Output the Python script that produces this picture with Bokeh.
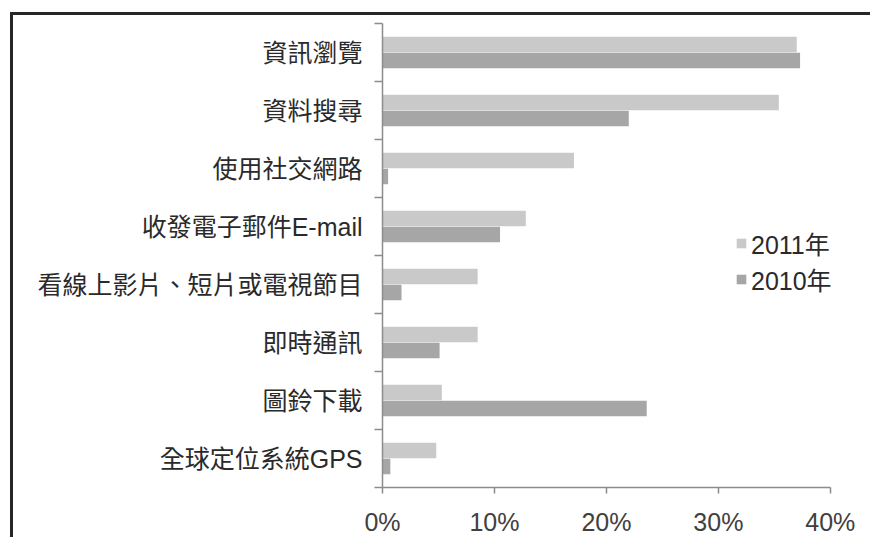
from bokeh.plotting import figure
from bokeh.models import Range1d, FixedTicker, Legend, LegendItem, ColumnDataSource
from bokeh.embed import file_html
from bokeh.resources import INLINE
import numpy as np

categories = ["資訊瀏覽", "資料搜尋", "使用社交網路", "收發電子郵件E-mail",
              "看線上影片、短片或電視節目", "即時通訊", "圖鈴下載", "全球定位系統GPS"]
v2011 = [37.0, 35.4, 17.1, 12.8, 8.5, 8.5, 5.3, 4.8]
v2010 = [37.3, 22.0, 0.5, 10.5, 1.7, 5.1, 23.6, 0.7]
x_ticks = [0, 10, 20, 30, 40]
series_names = ["2011年", "2010年"]

FONT = "'Liberation Sans', 'Noto Sans CJK TC', sans-serif"
LIGHT = "#c9c9c9"
DARK = "#a6a6a6"

n = len(categories)
idx = np.arange(n)
centers = idx + 0.5

p = figure(width=860, height=525, output_backend="svg", toolbar_location=None,
           x_range=Range1d(0, 41), y_range=Range1d(n, 0),
           min_border_left=369, min_border_right=32, min_border_top=8, min_border_bottom=53)
p.styles = {"border-left": "3px solid #262626", "border-top": "3px solid #262626",
            "margin-left": "10px", "margin-top": "12px"}
p.outline_line_color = None
p.grid.grid_line_color = None
p.background_fill_color = "white"
p.border_fill_color = "white"

src = ColumnDataSource(dict(y11=centers - 0.138, y10=centers + 0.138, v11=v2011, v10=v2010))
r11 = p.hbar(y="y11", right="v11", left=0, height=0.27, source=src,
             fill_color=LIGHT, line_color=None)
r10 = p.hbar(y="y10", right="v10", left=0, height=0.27, source=src,
             fill_color=DARK, line_color=None)

# x axis
xa = p.xaxis[0]
xa.bounds = (0, 40)
xa.ticker = FixedTicker(ticks=x_ticks, minor_ticks=[])
xa.major_label_overrides = {t: f"{t}%" for t in x_ticks}
xa.axis_line_color = "#8c8c8c"
xa.axis_line_width = 1.5
xa.major_tick_line_color = "#8c8c8c"
xa.major_tick_line_width = 1.5
xa.major_tick_out = 6
xa.major_tick_in = 0
xa.major_label_text_font = FONT
xa.major_label_text_font_size = "25px"
xa.major_label_text_color = "#404040"
xa.major_label_standoff = 14

# y axis
ya = p.yaxis[0]
ya.ticker = FixedTicker(ticks=list(centers), minor_ticks=list(range(n + 1)))
ya.major_label_overrides = {float(c): lab for c, lab in zip(centers, categories)}
ya.axis_line_color = "#8c8c8c"
ya.axis_line_width = 1.5
ya.major_tick_line_color = None
ya.major_tick_out = 0
ya.major_tick_in = 0
ya.minor_tick_line_color = "#8c8c8c"
ya.minor_tick_line_width = 1.5
ya.minor_tick_out = 8
ya.minor_tick_in = 0
ya.major_label_text_font = FONT
ya.major_label_text_font_size = "25px"
ya.major_label_text_color = "#2a2a2a"
ya.major_label_standoff = 12

legend = Legend(items=[LegendItem(label=series_names[0], renderers=[r11]),
                       LegendItem(label=series_names[1], renderers=[r10])],
                location=(353, 190), orientation="vertical",
                border_line_color=None, background_fill_alpha=0,
                padding=0, margin=0, spacing=0,
                glyph_width=12, glyph_height=12, label_standoff=4,
                label_text_font=FONT, label_text_font_size="25px",
                label_text_color="#2a2a2a", label_height=24)
p.add_layout(legend, "center")

open("out.html", "w").write(file_html(p, INLINE))
